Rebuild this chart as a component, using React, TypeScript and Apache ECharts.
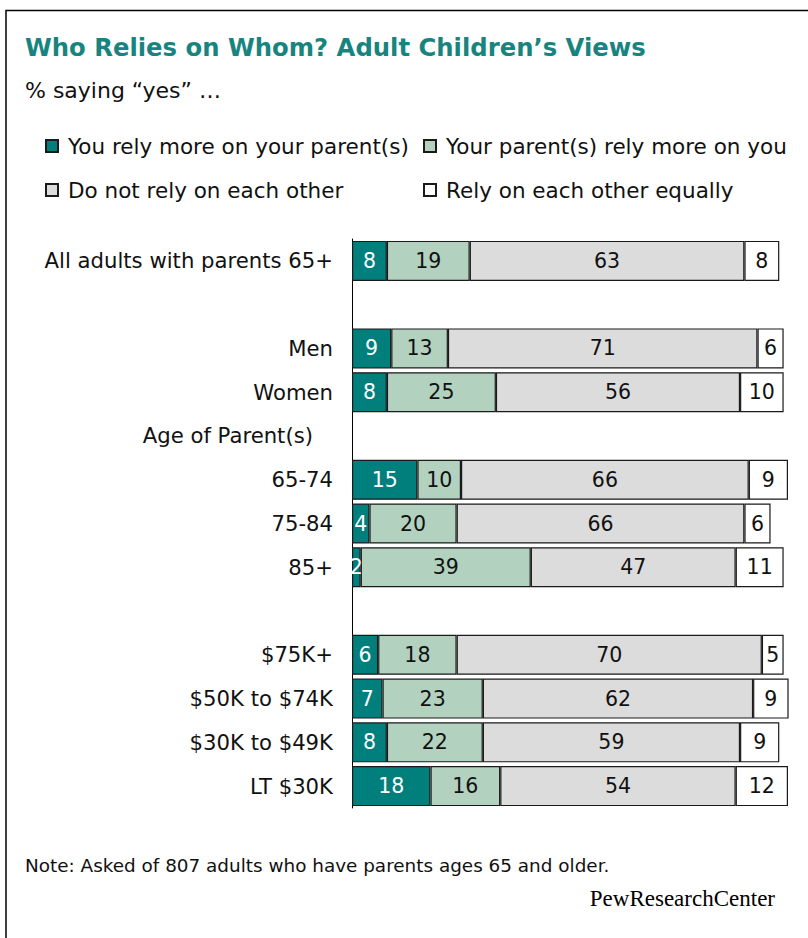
import React, { useEffect, useRef } from "react";
import * as echarts from "echarts";

const categories = [
  "All adults with parents 65+",
  " ",
  "Men",
  "Women",
  "Age of Parent(s)",
  "65-74",
  "75-84",
  "85+",
  "  ",
  "$75K+",
  "$50K to $74K",
  "$30K to $49K",
  "LT $30K",
];
const seriesNames = [
  "You rely more on your parent(s)",
  "Your parent(s) rely more on you",
  "Do not rely on each other",
  "Rely on each other equally",
];
const relyOnParents = [8, null, 9, 8, null, 15, 4, 2, null, 6, 7, 8, 18];
const parentsRelyOnYou = [19, null, 13, 25, null, 10, 20, 39, null, 18, 23, 22, 16];
const doNotRely = [63, null, 71, 56, null, 66, 66, 47, null, 70, 62, 59, 54];
const relyEqually = [8, null, 6, 10, null, 9, 6, 11, null, 5, 9, 9, 12];

const FONT = '"DejaVu Sans", Verdana, sans-serif';
const colors = ["#007f7d", "#b3d1bf", "#dcdcdc", "#ffffff"];
const labelColors = ["#ffffff", "#111111", "#111111", "#111111"];

export default function App() {
  const ref = useRef<HTMLDivElement>(null);
  useEffect(() => {
    if (!ref.current) return;
    const chart = echarts.init(ref.current, null, { renderer: "svg" });
    const allValues = [relyOnParents, parentsRelyOnYou, doNotRely, relyEqually];
    const legendPos = [
      { left: 45, top: 135 },
      { left: 423, top: 135 },
      { left: 45, top: 179 },
      { left: 423, top: 179 },
    ];
    chart.setOption({
      animation: false,
      backgroundColor: "#ffffff",
      title: [
        {
          text: "Who Relies on Whom? Adult Children\u2019s Views",
          left: 25,
          top: 35,
          padding: 0,
          textStyle: { fontFamily: FONT, fontSize: 24.3, fontWeight: "bold", color: "#17847f" },
        },
        {
          text: "% saying \u201cyes\u201d \u2026",
          left: 25,
          top: 79,
          padding: 0,
          textStyle: { fontFamily: FONT, fontSize: 22, fontWeight: "normal", color: "#111" },
        },
        {
          text: "Note: Asked of 807 adults who have parents ages 65 and older.",
          left: 25,
          top: 856,
          padding: 0,
          textStyle: { fontFamily: FONT, fontSize: 18.4, fontWeight: "normal", color: "#111" },
        },
      ],
      legend: seriesNames.map((n, i) => ({
        data: [n],
        left: legendPos[i].left,
        top: legendPos[i].top,
        padding: 0,
        icon: "rect",
        itemWidth: 12,
        itemHeight: 12,
        selectedMode: false,
        textStyle: { fontFamily: FONT, fontSize: 21.5, color: "#111", padding: [0, 0, 0, 5] },
      })),
      grid: { left: 352, top: 239, width: 436, height: 569, containLabel: false },
      xAxis: {
        type: "value",
        min: 0,
        max: 100,
        show: false,
      },
      yAxis: {
        type: "category",
        inverse: true,
        data: categories.map((c) =>
          c === "Age of Parent(s)" ? { value: c, textStyle: { padding: [0, 20, 0, 0] } } : c
        ),
        axisLine: { show: true, lineStyle: { color: "#000", width: 1 } },
        axisTick: { show: false },
        axisLabel: { fontFamily: FONT, fontSize: 21.2, color: "#111", margin: 19 },
      },
      series: allValues.map((vals, i) => ({
        name: seriesNames[i],
        type: "bar",
        stack: "total",
        barWidth: 40,
        data: vals.map((v) => (v == null ? "-" : v)),
        itemStyle: { color: colors[i], borderColor: "#1a1a1a", borderWidth: 1.2 },
        label: {
          show: true,
          position: "inside",
          fontFamily: FONT,
          fontSize: 20.5,
          color: labelColors[i],
        },
        emphasis: { disabled: true },
      })),
      graphic: [
        {
          type: "rect",
          silent: true,
          z: -10,
          shape: { x: 6, y: 10.5, width: 900, height: 1000 },
          style: { fill: "none", stroke: "#000", lineWidth: 1.5 },
        },
        {
          type: "text",
          x: 775,
          y: 898,
          silent: true,
          style: {
            text: "{a|PewResearch}{b|Center}",
            align: "right",
            verticalAlign: "middle",
            rich: {
              a: { fontFamily: '"Liberation Serif", "DejaVu Serif", serif', fontSize: 23, color: "#000" },
              b: { fontFamily: '"Liberation Serif", "DejaVu Serif", serif', fontSize: 23, color: "#777" },
            },
          },
        },
      ],
    });
    return () => chart.dispose();
  }, []);
  return (
    <div
      ref={ref}
      style={{ position: "absolute", left: 0, top: 0, width: 808, height: 938 }}
    />
  );
}
